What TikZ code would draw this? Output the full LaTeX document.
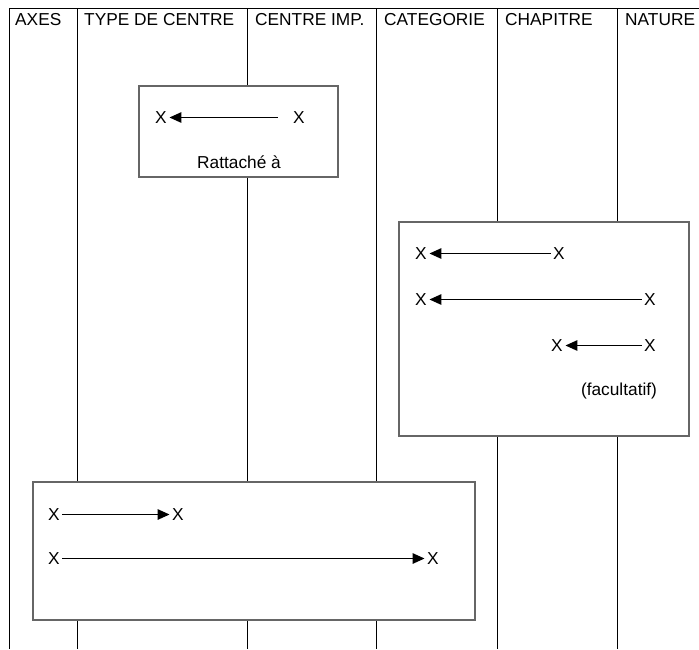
\documentclass[tikz,border=0pt]{standalone}
\usepackage{fontspec}
\setmainfont{Liberation Sans}
\usetikzlibrary{arrows.meta,positioning}
\definecolor{frameline}{HTML}{666666}
\tikzset{
    %Define standard arrow tip
    >={Triangle[length=12pt,width=10.5pt]},
    %Define style for column titles
    coltitle/.style={
           anchor=base west,
           inner sep=0pt,
           font=\fontsize{17.3}{20}\selectfont},
    %Define style for boxes
    frame/.style={
           rectangle,
           draw=frameline, line width=1.4pt,
           fill=white,
           inner sep=0pt},
    %Define style for the X marks
    xmark/.style={
           inner sep=2.5pt,
           font=\fontsize{17.3}{20}\selectfont},
    % Define arrow style
    link/.style={
           ->,
           line width=1.5pt},
    note/.style={
           anchor=base,
           inner sep=0pt,
           font=\fontsize{17.3}{20}\selectfont}
}
\begin{document}
\begin{tikzpicture}[x=1pt,y=-1pt]
\useasboundingbox (0,0) rectangle (699,649);
% grid
\draw[line width=1pt] (9,8) -- (699,8);
\foreach \xc in {9,77,247,376,497,617}
    \draw[line width=1pt] (\xc,8) -- (\xc,649);
% column titles
\node[coltitle] (axes) at (15,25.5) {AXES};
\node[coltitle] (type) at (84,25.5) {TYPE DE CENTRE};
\node[coltitle] (cimp) at (255,25.5) {CENTRE IMP.};
\node[coltitle] (cat) at (384,25.5) {CATEGORIE};
\node[coltitle] (chap) at (505,25.5) {CHAPITRE};
\node[coltitle] (nat) at (625,25.5) {NATURE};
% boxes
\node[frame, minimum width=199pt, minimum height=91pt] (B1) at (238.5,131.5) {};
\node[frame, minimum width=290pt, minimum height=214pt] (B2) at (544,329) {};
\node[frame, minimum width=442pt, minimum height=138pt] (B3) at (254,551) {};
% first box
\node[xmark] (a1) at (161,117.5) {X};
\node[xmark] (a2) at (299,117.5) {X};
\node[note] (rat) at (239,168) {Rattaché à};
\draw[link, shorten <=13pt] (a2) -- (a1);
% second box
\node[xmark] (c1) at (421,253.5) {X};
\node[xmark] (c2) at (559,253.5) {X};
\node[xmark] (c3) at (421,299.5) {X};
\node[xmark] (c4) at (650,299.5) {X};
\node[xmark] (c5) at (557,345.5) {X};
\node[xmark] (c6) at (650,345.5) {X};
\node[note] (fac) at (619,395) {(facultatif)};
\path[link]
	(c2) edge (c1)
	(c4) edge (c3)
	(c6) edge (c5);
% third box
\node[xmark] (d1) at (54,514.5) {X};
\node[xmark] (d2) at (178,514.5) {X};
\node[xmark] (d3) at (54,558.5) {X};
\node[xmark] (d4) at (433,558.5) {X};
\path[link]
	(d1) edge (d2)
	(d3) edge (d4);
\end{tikzpicture}
\end{document}
